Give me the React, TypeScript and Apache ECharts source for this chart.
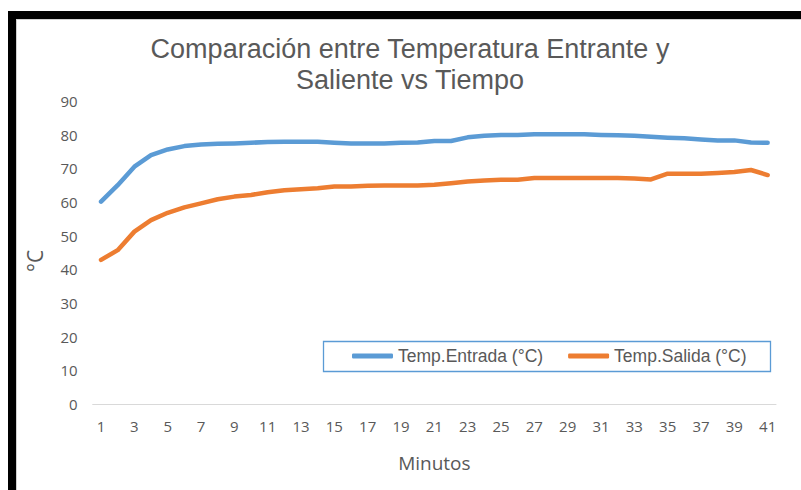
import React, { useEffect, useRef } from "react";
import * as echarts from "echarts";

const minutes: string[] = Array.from({ length: 41 }, (_, i) => String(i + 1));

const entrada: number[] = [
  60.1, 65.0, 70.5, 73.9, 75.6, 76.6, 77.1, 77.3, 77.4, 77.6,
  77.8, 77.9, 77.9, 77.9, 77.6, 77.4, 77.4, 77.4, 77.6, 77.7,
  78.1, 78.1, 79.2, 79.7, 79.9, 79.9, 80.1, 80.1, 80.1, 80.1,
  79.9, 79.8, 79.7, 79.4, 79.1, 78.9, 78.6, 78.3, 78.3, 77.7,
  77.6,
];

const salida: number[] = [
  42.8, 45.7, 51.2, 54.6, 56.8, 58.4, 59.6, 60.8, 61.6, 62.1,
  62.9, 63.5, 63.8, 64.1, 64.6, 64.6, 64.8, 64.9, 64.9, 64.9,
  65.1, 65.6, 66.1, 66.4, 66.6, 66.6, 67.1, 67.1, 67.1, 67.1,
  67.1, 67.1, 67.0, 66.7, 68.4, 68.4, 68.4, 68.6, 68.9, 69.5,
  68.0,
];

const seriesNames: string[] = ["Temp.Entrada (°C)", "Temp.Salida (°C)"];
const titleText = "Comparación entre Temperatura Entrante y\nSaliente vs Tiempo";
const xName = "Minutos";
const yName = "°C";

export default function App() {
  const ref = useRef<HTMLDivElement>(null);

  useEffect(() => {
    if (!ref.current) return;
    const chart = echarts.init(ref.current, null, { renderer: "svg" });
    const textColor = "#595959";
    chart.setOption({
      animation: false,
      backgroundColor: "#ffffff",
      grid: { left: 92.7, right: 25, top: 101, bottom: 86, containLabel: false },
      xAxis: {
        type: "category",
        data: minutes,
        boundaryGap: true,
        name: xName,
        nameLocation: "middle",
        nameGap: 49,
        nameTextStyle: { color: textColor, fontSize: 19, fontFamily: "Open Sans" },
        axisLine: { show: true, lineStyle: { color: "#d9d9d9", width: 1 } },
        axisTick: { show: false },
        axisLabel: {
          interval: 1,
          color: textColor,
          fontSize: 15,
          fontFamily: "Open Sans",
          margin: 14,
        },
        splitLine: { show: false },
      },
      yAxis: {
        type: "value",
        min: 0,
        max: 90,
        interval: 10,
        axisLine: { show: false },
        axisTick: { show: false },
        splitLine: { show: false },
        axisLabel: {
          color: textColor,
          fontSize: 15,
          fontFamily: "Open Sans",
          margin: 15,
        },
      },
      legend: {
        data: seriesNames,
        left: 352,
        top: 347,
        padding: 0,
        itemGap: 25,
        itemWidth: 41,
        itemHeight: 5,
        icon: "roundRect",
        textStyle: { color: textColor, fontSize: 17.5, fontFamily: "Liberation Sans" },
      },
      graphic: [
        { type: "rect", shape: { x: 8, y: 11, width: 793, height: 8 }, style: { fill: "#000" }, silent: true },
        { type: "rect", shape: { x: 8, y: 11, width: 8, height: 479 }, style: { fill: "#000" }, silent: true },
        { type: "line", shape: { x1: 16, y1: 19.5, x2: 801, y2: 19.5 }, style: { stroke: "#d0d0d0", lineWidth: 1 }, silent: true },
        { type: "line", shape: { x1: 16.5, y1: 19, x2: 16.5, y2: 490 }, style: { stroke: "#d0d0d0", lineWidth: 1 }, silent: true },
        {
          type: "rect",
          shape: { x: 323.5, y: 341.5, width: 447, height: 30 },
          style: { fill: "none", stroke: "#5B9BD5", lineWidth: 1.3 },
          silent: true,
        },
        {
          type: "text",
          x: 410,
          y: 33.5,
          style: {
            text: titleText,
            fill: textColor,
            fontSize: 27,
            lineHeight: 31,
            fontFamily: "Liberation Sans",
            align: "center",
            verticalAlign: "top",
          },
          silent: true,
        },
        {
          type: "text",
          x: 35,
          y: 261,
          rotation: Math.PI / 2,
          style: {
            text: yName,
            fill: textColor,
            fontSize: 21,
            fontFamily: "Open Sans",
            align: "center",
            verticalAlign: "middle",
          },
          silent: true,
        },
      ],
      series: [
        {
          name: seriesNames[0],
          type: "line",
          data: entrada,
          showSymbol: false,
          symbol: "none",
          itemStyle: { color: "#5B9BD5" },
          lineStyle: { color: "#5B9BD5", width: 4.5, cap: "round", join: "round" },
        },
        {
          name: seriesNames[1],
          type: "line",
          data: salida,
          showSymbol: false,
          symbol: "none",
          itemStyle: { color: "#ED7D31" },
          lineStyle: { color: "#ED7D31", width: 4.5, cap: "round", join: "round" },
        },
      ],
    });
    return () => chart.dispose();
  }, []);

  return (
    <div
      ref={ref}
      style={{ position: "absolute", left: 0, top: 0, width: 801, height: 490 }}
    />
  );
}
